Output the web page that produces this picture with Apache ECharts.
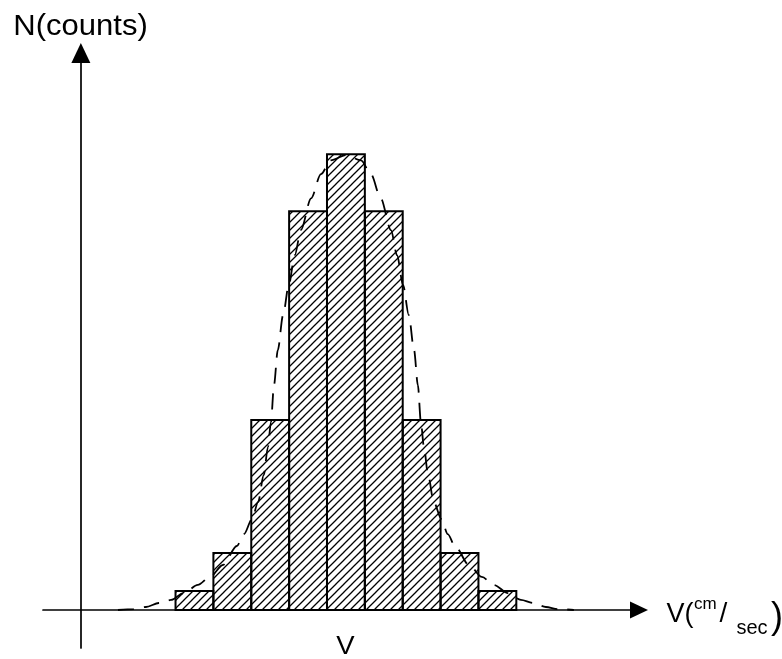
<!DOCTYPE html>
<html>
<head>
<meta charset="utf-8">
<script src="https://cdn.jsdelivr.net/npm/echarts@6/dist/echarts.min.js"></script>
<style>html,body{margin:0;padding:0;background:#fff}#c{width:782px;height:659px}</style>
</head>
<body>
<div id="c"></div>
<script>
// Histogram bins (x in bin units; y axis sits at x = 0)
const binCenters = [3, 4, 5, 6, 7, 8, 9, 10, 11];
const counts = [1, 3, 10, 21, 24, 21, 10, 3, 1];
// Dashed fitted curve
const curveX = [0.98, 1.40, 1.72, 2.06, 2.38, 2.72, 3.09, 3.41, 3.75, 4.12, 4.31, 4.52, 4.68, 4.83, 4.94, 5.02, 5.10, 5.20, 5.34, 5.49, 5.65, 5.81, 6.08, 6.34, 6.60, 7.00,
                7.40, 7.66, 7.92, 8.19, 8.35, 8.51, 8.66, 8.80, 8.90, 8.98, 9.06, 9.17, 9.32, 9.52, 9.69, 9.88, 10.25, 10.59, 10.91, 11.28, 11.62, 11.94, 12.28, 12.60, 13.02];
const curveY = [0, 0.05, 0.16, 0.37, 0.53, 0.89, 1.32, 1.74, 2.37, 3.37, 4.0, 4.79, 5.68, 7.11, 8.58, 9.89, 11.84, 13.68, 15.53, 17.11, 18.68, 20.0, 21.68, 22.95, 23.68, 23.95,
                23.68, 22.95, 21.68, 20.0, 18.68, 17.11, 15.53, 13.68, 11.84, 9.89, 8.58, 7.11, 5.68, 4.79, 4.0, 3.37, 2.37, 1.74, 1.32, 0.89, 0.53, 0.37, 0.16, 0.05, 0];
const yTitle = 'N(counts)';
const xCenterLabel = 'V';

// hatch pattern
const tile = document.createElement('canvas');
tile.width = 8; tile.height = 8;
const g = tile.getContext('2d');
g.strokeStyle = '#000'; g.lineWidth = 1.3;
g.beginPath();
g.moveTo(-2, 10); g.lineTo(10, -2);
g.moveTo(-2, 2); g.lineTo(2, -2);
g.moveTo(6, 10); g.lineTo(10, 6);
g.stroke();
const hatch = { image: tile, repeat: 'repeat' };

const barData = binCenters.map((x, i) => [x, counts[i]]);
const curveData = curveX.map((x, i) => [x, curveY[i]]);

const chart = echarts.init(document.getElementById('c'));
const DY = 3.5;
const txt = (text, x, y, size, opts) => Object.assign({
  type: 'text', x: x, y: y + DY, silent: true,
  style: { text: text, fill: '#000', font: size + 'px "Liberation Sans", Arial, sans-serif',
           textAlign: 'left', textVerticalAlign: 'middle' }
}, opts || {});

chart.setOption({
  animation: false,
  backgroundColor: '#fff',
  grid: { left: 43, right: 143, top: 53, bottom: 11 },
  xAxis: {
    type: 'value', min: -1, max: 14.74,
    axisLine: { onZero: true, lineStyle: { color: '#000', width: 1.7 }, symbol: ['none', 'triangle'], symbolSize: [17, 18] },
    axisTick: { show: false }, axisLabel: { show: false }, splitLine: { show: false }
  },
  yAxis: {
    type: 'value', min: -2, max: 29.33,
    axisLine: { onZero: true, lineStyle: { color: '#000', width: 1.7 }, symbol: ['none', 'triangle'], symbolSize: [19, 20] },
    axisTick: { show: false }, axisLabel: { show: false }, splitLine: { show: false }
  },
  series: [
    {
      type: 'custom', z: 2,
      data: barData,
      renderItem: function (params, api) {
        const x = api.value(0), y = api.value(1);
        const p1 = api.coord([x - 0.5, y]);
        const p2 = api.coord([x + 0.5, 0]);
        return {
          type: 'rect',
          shape: { x: p1[0], y: p1[1], width: p2[0] - p1[0], height: p2[1] - p1[1] },
          style: { fill: hatch, stroke: '#000', lineWidth: 2 }
        };
      }
    },
    {
      type: 'line', z: 3,
      data: curveData,
      showSymbol: false, symbol: 'none',
      smooth: 0.3, smoothMonotone: 'x',
      lineStyle: { color: '#000', width: 1.8, type: [16, 10] }
    }
  ],
  graphic: [
    txt(yTitle, 13.3, 23.3, 29, { scaleX: 1.07 }),
    txt(xCenterLabel, 345.5, 643.6, 25, { scaleX: 1.1, style: { text: xCenterLabel, fill: '#000', font: '25px "Liberation Sans", Arial, sans-serif', textAlign: 'center', textVerticalAlign: 'middle' } }),
    txt('V(', 666.5, 620 - 0.3465 * 27, 27),
    txt('cm', 694, 606.7 - 0.3465 * 17, 17),
    txt('/', 719.5, 620 - 0.3465 * 28, 28),
    txt('sec', 736.5, 631.7 - 0.3465 * 20, 20),
    txt(')', 771, 627.4 - 0.3465 * 36, 36)
  ]
});
</script>
</body>
</html>
